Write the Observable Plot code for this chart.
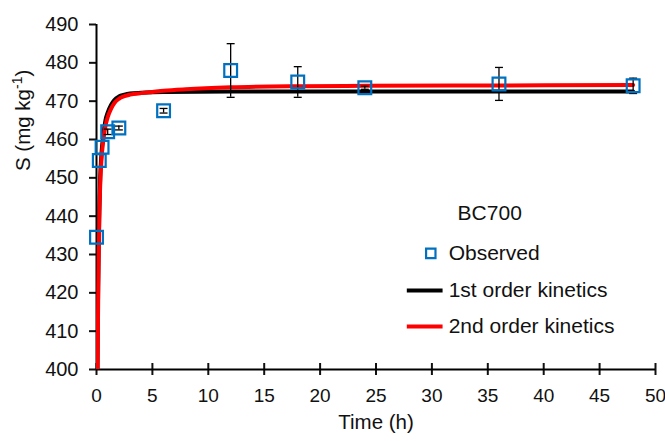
<!DOCTYPE html>
<html>
<head>
<meta charset="utf-8">
<script src="https://cdn.jsdelivr.net/npm/d3@7"></script>
<script src="https://cdn.jsdelivr.net/npm/@observablehq/plot@0.6"></script>
<style>
  html, body { margin: 0; padding: 0; background: #fff; }
  #chart { width: 665px; height: 441px; }
</style>
</head>
<body>
<div id="chart"></div>
<script>
// Observed data
const obsTime = [0, 0.25, 0.5, 1, 2, 6, 12, 18, 24, 36, 48];
const obsS    = [434.5, 454.5, 458, 462, 463, 467.5, 478, 475, 473.5, 474.5, 474];
const obsErr  = [0, 0, 0, 0.7, 0.5, 0.6, 7, 4, 0.4, 4.3, 2];

// 1st order kinetics fitted curve
const fit1Time = [0.09, 0.12, 0.16, 0.2, 0.25, 0.33, 0.45, 0.6, 0.8, 1, 1.3, 1.6, 2, 2.5, 3, 4, 6, 12, 18, 24, 36, 48];
const fit1S    = [400, 414, 424, 433, 441, 450, 456.5, 461, 465, 467, 469, 470.3, 471.2, 471.7, 472, 472.2, 472.4, 472.5, 472.5, 472.5, 472.5, 472.5];

// 2nd order kinetics fitted curve
const fit2Time = [0.1, 0.13, 0.16, 0.2, 0.25, 0.33, 0.45, 0.6, 0.8, 1, 1.3, 1.6, 2, 2.5, 3, 4, 5, 6, 8, 12, 18, 24, 36, 48];
const fit2S    = [400, 412, 421, 430, 439, 448, 455, 459.5, 463.5, 465.8, 468, 469.5, 470.6, 471.3, 471.7, 472.1, 472.4, 472.7, 473.1, 473.6, 473.9, 474, 474.1, 474.2];

const xTicks = [0, 5, 10, 15, 20, 25, 30, 35, 40, 45, 50];
const yTicks = [400, 410, 420, 430, 440, 450, 460, 470, 480, 490];

const seriesNames = ["BC700", "Observed", "1st order kinetics", "2nd order kinetics"];
const colors = {obs: "#0070C0", first: "#000000", second: "#FF0000"};

const obs = obsTime.map((t, i) => ({t, s: obsS[i], e: obsErr[i]}));
const fit1 = fit1Time.map((t, i) => ({t, s: fit1S[i]}));
const fit2 = fit2Time.map((t, i) => ({t, s: fit2S[i]}));
const errs = obs.filter(d => d.e > 0);

const cap = {
  draw(context, size) {
    const w = Math.sqrt(size);
    context.moveTo(-w / 2, 0);
    context.lineTo(w / 2, 0);
  }
};

// legend entries (in data coordinates inside plot)
const legendText = [
  {t: 32.3, s: 440.7, label: seriesNames[0]},
  {t: 31.5, s: 430.3, label: seriesNames[1]},
  {t: 31.5, s: 420.6, label: seriesNames[2]},
  {t: 31.5, s: 411.2, label: seriesNames[3]}
];
const legendLines = [
  {t1: 27.8, t2: 31.0, s: 420.6, c: colors.first},
  {t1: 27.8, t2: 31.0, s: 411.2, c: colors.second}
];

const FONT = "Liberation Sans, Arial, sans-serif";
const TXT = "#111";

const chart = Plot.plot({
  width: 665,
  height: 441,
  marginLeft: 96,
  marginRight: 10,
  marginTop: 24,
  marginBottom: 72,
  style: {fontFamily: FONT, fontSize: "20px", color: TXT, background: "#fff"},
  x: {domain: [0, 50], ticks: xTicks},
  y: {domain: [400, 490], ticks: yTicks},
  marks: [
    // axes
    Plot.axisX({ticks: xTicks, tickSize: 6, tickPadding: 13, strokeWidth: 2, fontSize: 19, fill: TXT, label: null}),
    Plot.axisX({ticks: xTicks, tickSize: -6, tickFormat: () => "", strokeWidth: 2, label: null}),
    Plot.axisY({ticks: yTicks, tickSize: 7, tickPadding: 11, strokeWidth: 2, fontSize: 20, fill: TXT, label: null}),
    Plot.ruleX([0], {stroke: "#000", strokeWidth: 2}),
    Plot.ruleY([400], {stroke: "#000", strokeWidth: 2}),
    Plot.text(["Time (h)"], {frameAnchor: "bottom", dy: 59, fontSize: 20.5, fill: TXT}),
    Plot.text(["S (mg kg-1)"], {frameAnchor: "left", dx: -73, dy: -26, rotate: -90, fontSize: 20.5, fill: TXT}),
    // fitted curves
    Plot.line(fit1, {x: "t", y: "s", stroke: colors.first, strokeWidth: 4, curve: "monotone-x", clip: true}),
    Plot.line(fit2, {x: "t", y: "s", stroke: colors.second, strokeWidth: 4, curve: "monotone-x", clip: true}),
    // error bars
    Plot.ruleX(errs, {x: "t", y1: d => d.s - d.e, y2: d => d.s + d.e, stroke: "#000", strokeWidth: 1.3}),
    Plot.dot(errs, {x: "t", y: d => d.s + d.e, symbol: cap, r: 4.5, stroke: "#000", strokeWidth: 1.3}),
    Plot.dot(errs, {x: "t", y: d => d.s - d.e, symbol: cap, r: 4.5, stroke: "#000", strokeWidth: 1.3}),
    // observed
    Plot.dot(obs, {x: "t", y: "s", symbol: "square", r: 7.2, stroke: colors.obs, strokeWidth: 2.2, fill: "none"}),
    // legend
    Plot.text(legendText, {x: "t", y: "s", text: "label", textAnchor: "start", fontSize: 21, fill: TXT}),
    Plot.ruleY(legendLines, {y: "s", x1: "t1", x2: "t2", stroke: "c", strokeWidth: 4}),
    Plot.dot([{t: 29.9, s: 430.3}], {x: "t", y: "s", symbol: "square", r: 5.3, stroke: colors.obs, strokeWidth: 2.2, fill: "none"})
  ]
});

document.getElementById("chart").appendChild(chart);

// superscript in y label
d3.select(chart).selectAll("text").filter(function() { return this.textContent === "S (mg kg-1)"; })
  .each(function() {
    const t = d3.select(this);
    t.text(null);
    t.append("tspan").text("S (mg kg");
    t.append("tspan").attr("baseline-shift", "super").attr("font-size", 14).text("-1");
    t.append("tspan").text(")");
  });
</script>
</body>
</html>
